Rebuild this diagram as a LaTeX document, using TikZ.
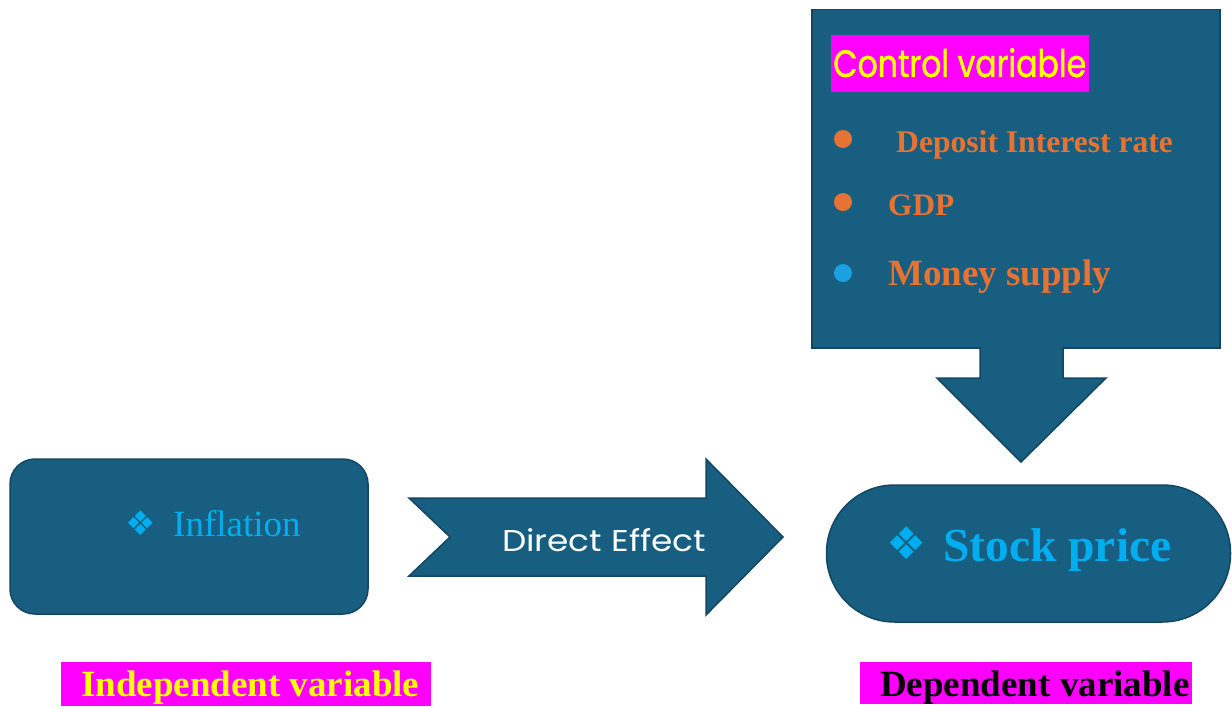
\documentclass[tikz,border=0pt]{standalone}
\usepackage{fontspec}
\setmainfont{Liberation Serif}
\newfontfamily\comicfont{Poppins}
\newfontfamily\comicheavy[FakeBold=1.3]{Poppins}
\newfontfamily\symfont{DejaVu Sans}
\definecolor{boxfill}{RGB}{24,94,128}
\definecolor{boxline}{RGB}{18,70,98}
\definecolor{txtorange}{RGB}{230,115,50}
\definecolor{txtblue}{RGB}{0,174,240}
\definecolor{dotblue}{RGB}{27,161,226}
\definecolor{hlmagenta}{RGB}{255,0,255}
\definecolor{hlyellow}{RGB}{255,255,0}
\begin{document}
\begin{tikzpicture}[x=1pt,y=-1pt,
  shapefill/.style={fill=boxfill, draw=boxline, line width=1.5pt},
  txt/.style={inner sep=0pt, anchor=base west},
  hl/.style={fill=hlmagenta, inner sep=0pt, draw=none},
  dot/.style={circle, inner sep=0pt, minimum size=18pt},
  fs/.style={font=\fontsize{#1}{#1}\selectfont}
]
\useasboundingbox (0,0) rectangle (1232,709);

% control variable box
\node[shapefill, rectangle, anchor=north west, minimum width=408pt, minimum height=338pt, inner sep=0pt] (ctrl) at (811,9) {};
\node[hl, anchor=north west, minimum width=258pt, minimum height=57pt] (ctrlhl) at (831,35) {};
\node[txt, text=hlyellow] (ctrltxt) at (833,77) {\resizebox{253pt}{29pt}{\comicheavy Control variable}};

\node[dot, fill=txtorange] (b1) at (843,139) {};
\node[dot, fill=txtorange] (b2) at (843,202) {};
\node[dot, fill=dotblue] (b3) at (843,273) {};
\node[txt, text=txtorange, fs=31.6] (dep) at (896,152) {\bfseries Deposit Interest rate};
\node[txt, text=txtorange, fs=31.3] (gdp) at (888,215) {\bfseries GDP};
\node[txt, text=txtorange, fs=37] (money) at (888,285) {\bfseries Money supply};

% down arrow
\coordinate (dsl) at (980,347);
\coordinate (dsr) at (1063,347);
\coordinate (dtip) at (1021,462);
\draw[shapefill] (dsl) -- (980,378) -- (937,378) -- (dtip) -- (1106,378) -- (1063,378) -- (dsr);

% stock price
\node[shapefill, rectangle, rounded corners=68pt, minimum width=404pt, minimum height=137pt, inner sep=0pt] (stock) at (1028.5,553.5) {};
\node[inner sep=0pt, text=txtblue, fs=45] (stocksym) at (907,543) {\symfont ❖};
\node[txt, text=txtblue, fs=47.5] (stocktxt) at (943,561) {\bfseries Stock price};

% inflation
\node[shapefill, rectangle, rounded corners=25pt, minimum width=358pt, minimum height=155pt, inner sep=0pt] (infl) at (189,536.5) {};
\node[inner sep=0pt, text=txtblue, fs=34] (inflsym) at (141,523) {\symfont ❖};
\node[txt, text=txtblue, fs=37] (infltxt) at (173,536) {Inflation};

% direct effect arrow
\draw[shapefill] (409,498) -- (706,498) -- (706,459) -- (783,537) -- (706,615) -- (706,576) -- (409,576) -- (450,537) -- cycle;
\node[txt, text=white] (direct) at (502,551) {\resizebox{204pt}{23pt}{\comicfont Direct Effect}};

% labels
\node[hl, anchor=north west, minimum width=370pt, minimum height=44pt] (indhl) at (61,662) {};
\node[txt, text=hlyellow, fs=37] (indtxt) at (81,696) {\bfseries Independent variable};
\node[hl, anchor=north west, minimum width=332pt, minimum height=42pt] (dephl) at (860,662) {};
\node[txt, text=black, fs=37] (deptxt) at (880,696) {\bfseries Dependent variable};
\end{tikzpicture}
\end{document}
